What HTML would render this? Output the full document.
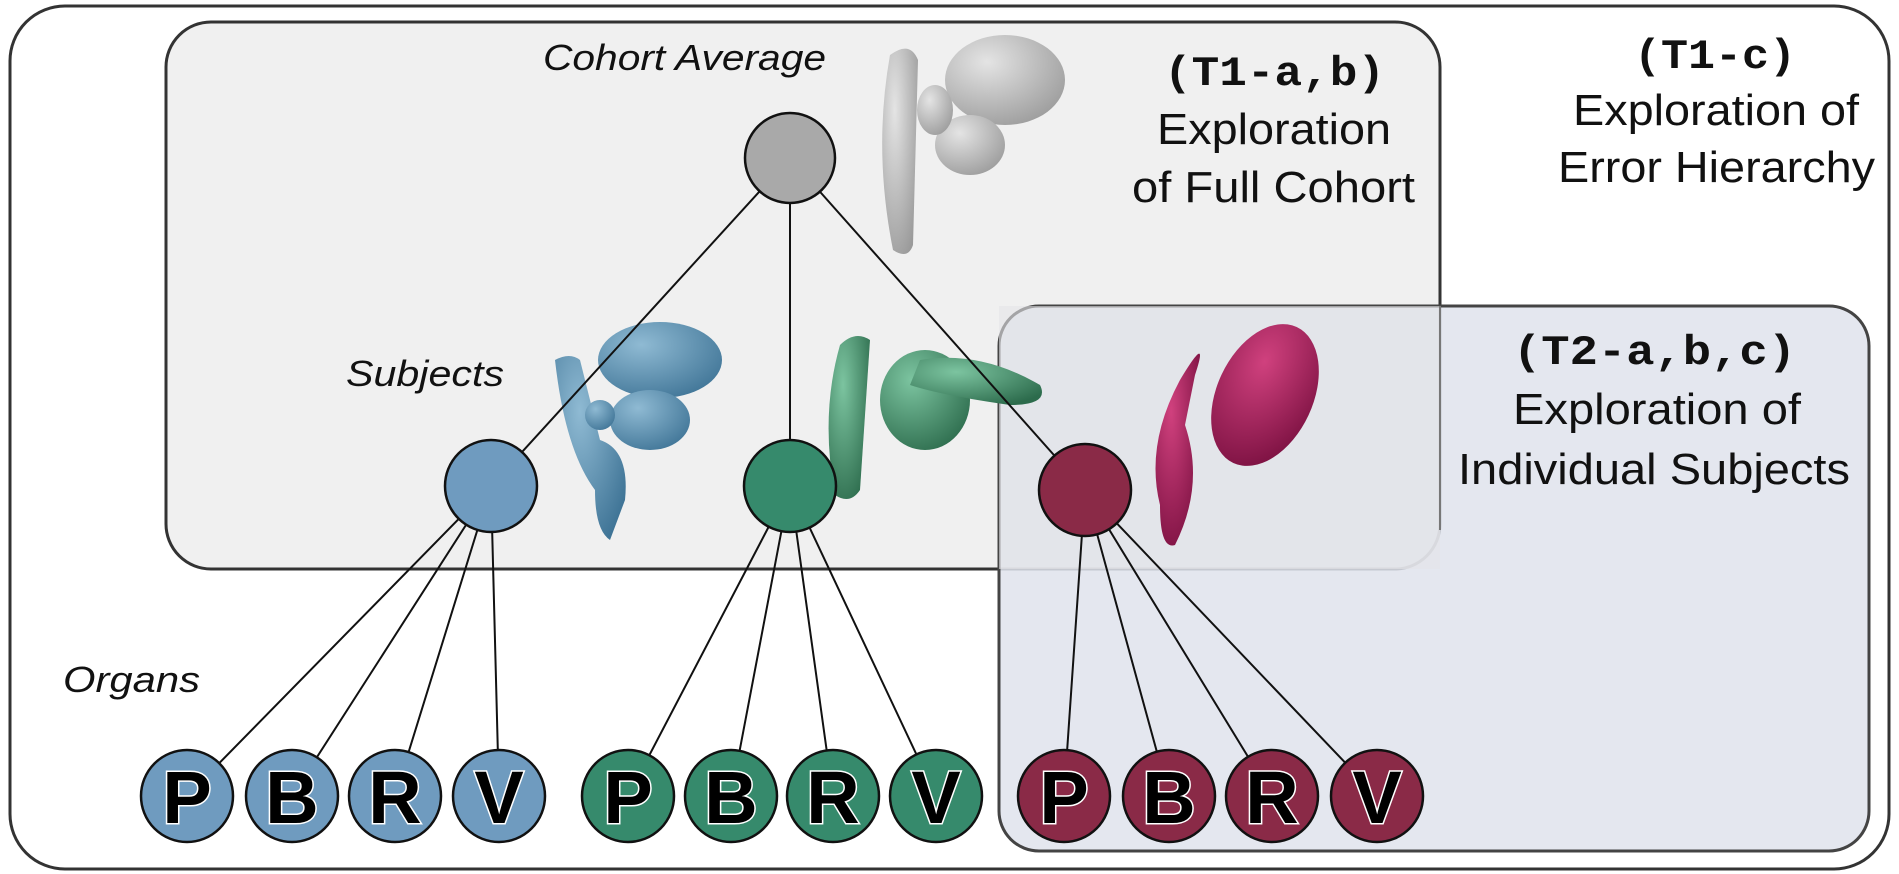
<!DOCTYPE html>
<html><head><style>html,body{margin:0;padding:0;background:#fff}svg{display:block}</style></head><body>
<svg width="1899" height="874" viewBox="0 0 1899 874" xmlns="http://www.w3.org/2000/svg">
<defs>
<radialGradient id="gg" cx="0.35" cy="0.3" r="0.8"><stop offset="0" stop-color="#e4e4e4"/><stop offset="1" stop-color="#9a9a9a"/></radialGradient>
<radialGradient id="bg" cx="0.35" cy="0.3" r="0.8"><stop offset="0" stop-color="#8fbad3"/><stop offset="1" stop-color="#3f7496"/></radialGradient>
<radialGradient id="ng" cx="0.35" cy="0.3" r="0.8"><stop offset="0" stop-color="#7cc4a0"/><stop offset="1" stop-color="#2c6b4c"/></radialGradient>
<radialGradient id="mg" cx="0.35" cy="0.3" r="0.8"><stop offset="0" stop-color="#d0417e"/><stop offset="1" stop-color="#7a1040"/></radialGradient>
</defs>
<rect x="10" y="6" width="1879" height="863" rx="55" fill="#fff" stroke="#333" stroke-width="3"/>
<rect x="166" y="22" width="1274" height="547" rx="45" fill="#f0f0f0" stroke="#333" stroke-width="3"/>
<rect x="999" y="306" width="870" height="545" rx="40" fill="#dfe3ec" fill-opacity="0.85" stroke="#444" stroke-width="3"/>
<rect x="999" y="306" width="441" height="263" fill="#e4e5e8" fill-opacity="0.6"/>
<path d="M1440 306 V530" stroke="#777" stroke-width="2"/>
<g>
<path d="M890 55 q20 -15 28 5 l-5 185 q-5 15 -20 5 q-20 -100 -3 -195z" fill="url(#gg)"/>
<ellipse cx="1005" cy="80" rx="60" ry="45" fill="url(#gg)"/>
<ellipse cx="970" cy="145" rx="35" ry="30" fill="url(#gg)"/>
<ellipse cx="935" cy="110" rx="18" ry="25" fill="url(#gg)"/>
<path d="M555 360 q15 -8 25 0 l20 80 q30 10 25 60 l-15 40 q-15 -10 -15 -50 q-30 -40 -40 -130z" fill="url(#bg)"/>
<ellipse cx="660" cy="360" rx="62" ry="38" fill="url(#bg)"/>
<ellipse cx="650" cy="420" rx="40" ry="30" fill="url(#bg)"/>
<ellipse cx="600" cy="415" rx="15" ry="15" fill="url(#bg)"/>
<path d="M840 345 q15 -15 30 -5 l-10 150 q-10 15 -25 5 q-15 -80 5 -150z" fill="url(#ng)"/>
<ellipse cx="925" cy="400" rx="45" ry="50" fill="url(#ng)"/>
<path d="M920 360 q60 -10 120 25 q10 20 -30 20 q-70 -10 -100 -20z" fill="url(#ng)"/>
<path d="M1180 380 q30 -50 15 -5 l-10 50 q20 60 -10 120 q-15 5 -15 -40 q-15 -60 20 -125z" fill="url(#mg)"/>
<ellipse cx="1265" cy="395" rx="48" ry="75" fill="url(#mg)" transform="rotate(25 1265 395)"/>
</g>
<g stroke="#111" stroke-width="2" fill="none">
<path d="M790 158 L491 486 M790 158 V486 M790 158 L1085 490"/>
<path d="M491 486 L187 796 M491 486 L292 796 M491 486 L395 796 M491 486 L499 796"/>
<path d="M790 486 L628 796 M790 486 L731 796 M790 486 L833 796 M790 486 L936 796"/>
<path d="M1085 490 L1064 796 M1085 490 L1169 796 M1085 490 L1272 796 M1085 490 L1377 796"/>
</g>
<g stroke="#111" stroke-width="2.5">
<circle cx="790" cy="158" r="45" fill="#a9a9a9"/>
<circle cx="491" cy="486" r="46" fill="#6f9bbf"/>
<circle cx="790" cy="486" r="46" fill="#368a6c"/>
<circle cx="1085" cy="490" r="46" fill="#8a2a47"/>
</g>
<g stroke="#111" stroke-width="2.5">
<circle cx="187" cy="796" r="46" fill="#6f9bbf"/><circle cx="292" cy="796" r="46" fill="#6f9bbf"/><circle cx="395" cy="796" r="46" fill="#6f9bbf"/><circle cx="499" cy="796" r="46" fill="#6f9bbf"/>
<circle cx="628" cy="796" r="46" fill="#368a6c"/><circle cx="731" cy="796" r="46" fill="#368a6c"/><circle cx="833" cy="796" r="46" fill="#368a6c"/><circle cx="936" cy="796" r="46" fill="#368a6c"/>
<circle cx="1064" cy="796" r="46" fill="#8a2a47"/><circle cx="1169" cy="796" r="46" fill="#8a2a47"/><circle cx="1272" cy="796" r="46" fill="#8a2a47"/><circle cx="1377" cy="796" r="46" fill="#8a2a47"/>
</g>
<g font-family="Liberation Sans, sans-serif" font-weight="bold" font-size="74" text-anchor="middle" fill="#000" stroke="#fff" stroke-width="3" paint-order="stroke">
<text x="187" y="823">P</text><text x="292" y="823">B</text><text x="395" y="823">R</text><text x="499" y="823">V</text>
<text x="628" y="823">P</text><text x="731" y="823">B</text><text x="833" y="823">R</text><text x="936" y="823">V</text>
<text x="1064" y="823">P</text><text x="1169" y="823">B</text><text x="1272" y="823">R</text><text x="1377" y="823">V</text>
</g>
<g font-family="Liberation Sans, sans-serif" font-style="italic" font-size="36" fill="#111" lengthAdjust="spacingAndGlyphs">
<text x="543" y="70" textLength="283" lengthAdjust="spacingAndGlyphs">Cohort Average</text>
<text x="346" y="386" textLength="158" lengthAdjust="spacingAndGlyphs">Subjects</text>
<text x="63" y="692" textLength="137" lengthAdjust="spacingAndGlyphs">Organs</text>
</g>
<g font-family="Liberation Mono, monospace" font-weight="bold" font-size="42" fill="#111">
<text x="1164" y="85" textLength="221" lengthAdjust="spacingAndGlyphs">(T1-a,b)</text>
<text x="1634" y="68" textLength="162" lengthAdjust="spacingAndGlyphs">(T1-c)</text>
<text x="1513" y="364" textLength="283" lengthAdjust="spacingAndGlyphs">(T2-a,b,c)</text>
</g>
<g font-family="Liberation Sans, sans-serif" font-size="44" fill="#111">
<text x="1157" y="144" textLength="234" lengthAdjust="spacingAndGlyphs">Exploration</text>
<text x="1132" y="202" textLength="283" lengthAdjust="spacingAndGlyphs">of Full Cohort</text>
<text x="1573" y="125" textLength="286" lengthAdjust="spacingAndGlyphs">Exploration of</text>
<text x="1558" y="182" textLength="317" lengthAdjust="spacingAndGlyphs">Error Hierarchy</text>
<text x="1513" y="424" textLength="288" lengthAdjust="spacingAndGlyphs">Exploration of</text>
<text x="1458" y="484" textLength="392" lengthAdjust="spacingAndGlyphs">Individual Subjects</text>
</g>
</svg>
</body></html>
